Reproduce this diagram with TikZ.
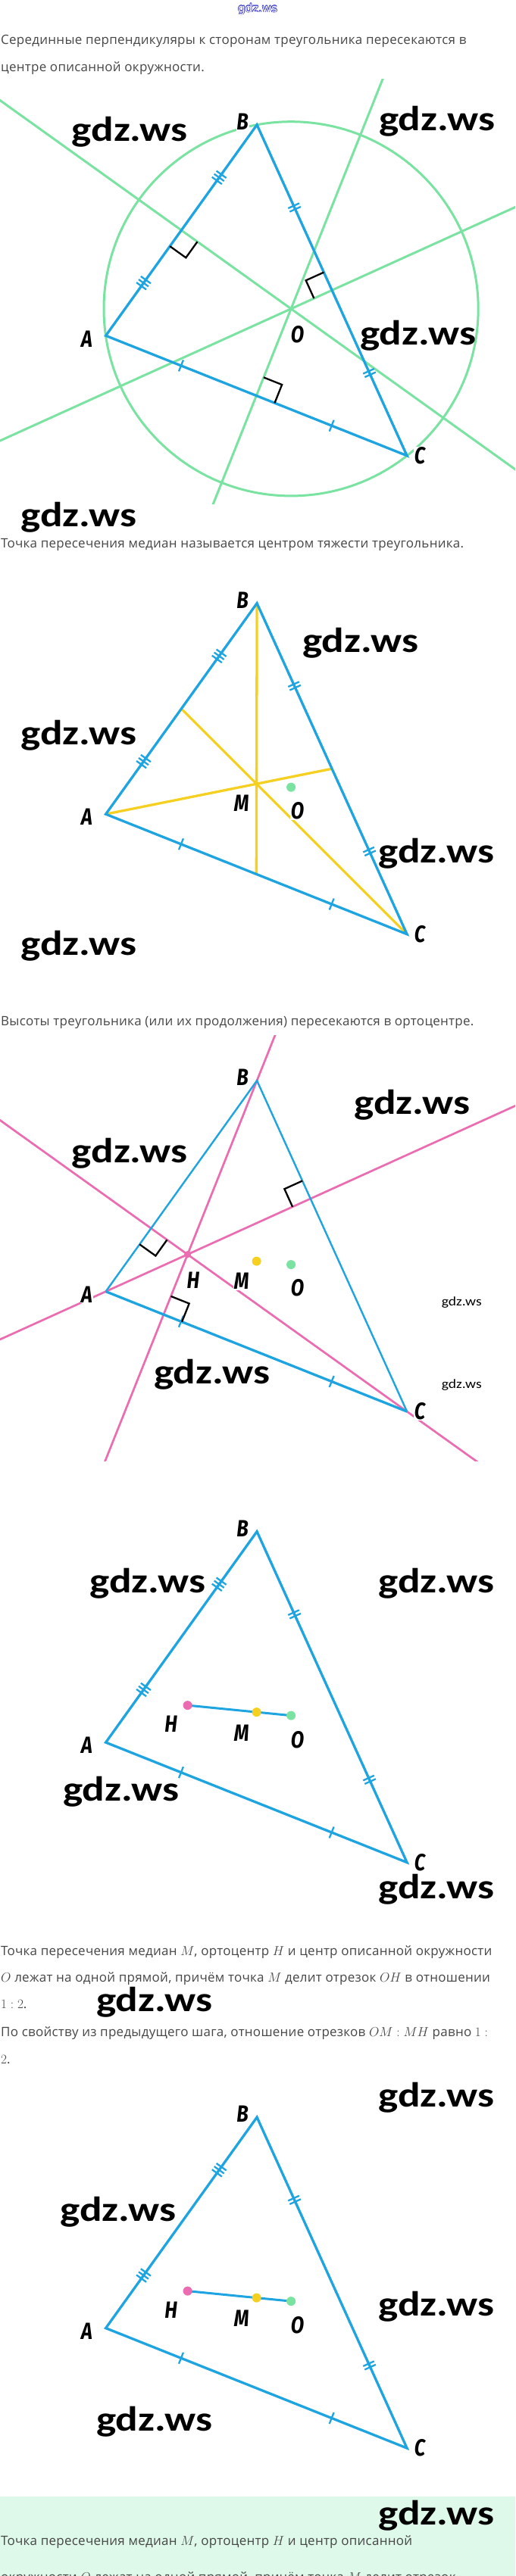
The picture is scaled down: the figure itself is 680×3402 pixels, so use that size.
\documentclass[tikz,border=0pt]{standalone}
\usepackage{fontspec}
\usepackage{tikz}
\usetikzlibrary{calc,decorations.markings}
\setmainfont{Open Sans}[LetterSpace=1.5]
\newfontfamily\labelfont{Fira Sans}
\newfontfamily\wmfont{Carlito}
\newfontfamily\titlefont{DejaVu Sans}
\definecolor{triblue}{RGB}{30,165,225}
\definecolor{bisgreen}{RGB}{122,227,162}
\definecolor{medyellow}{RGB}{246,208,32}
\definecolor{altpink}{RGB}{236,108,178}
\definecolor{boxmint}{RGB}{222,248,233}
\definecolor{textgrey}{RGB}{70,70,70}
\definecolor{titleblue}{RGB}{45,45,205}

% triangle shared by every figure, A at the origin
\newcommand\tripoints{%
  \coordinate (A) at (0,0);
  \coordinate (B) at (199.5,-278.5);
  \coordinate (C) at (397.5,158.5);
  \coordinate (M) at (199,-40);
  \coordinate (O) at (244.5,-35.5);
  \coordinate (H) at (108,-49);
  \coordinate (mAB) at ($(A)!.5!(B)$);
  \coordinate (mBC) at ($(B)!.5!(C)$);
  \coordinate (mAC) at ($(A)!.5!(C)$);}
\newcommand\ticklines[1]{\foreach \k in {1,...,#1}{%
  \draw[tick] ({(\k-(#1+1)/2)*5pt},-8pt) -- ({(\k-(#1+1)/2)*5pt},8pt);}}
\newcommand\perpmark[2]{%
  \coordinate (p1) at ($(#1)!26pt!(#2)$);
  \coordinate (p3) at ($(#1)!26pt!90:(#2)$);
  \draw[perp] (p1) -- ($(p1)+(p3)-(#1)$) -- (p3);}

\tikzset{
  side/.style={draw=triblue,line width=3.3pt},
  thinside/.style={draw=triblue,line width=2.4pt},
  tick/.style={draw=triblue,line width=2.3pt},
  eqmarks/.style={postaction={decorate,decoration={markings,
    mark=at position .25 with {\ticklines{#1}},
    mark=at position .75 with {\ticklines{#1}}}}},
  perp/.style={draw=black,line width=2.3pt},
  bis/.style={draw=bisgreen,line width=3pt},
  med/.style={draw=medyellow,line width=3.3pt},
  alt/.style={draw=altpink,line width=2.7pt},
  seg/.style={draw=triblue,line width=3pt},
  lbl/.style={font=\labelfont\bfseries\itshape\fontsize{31}{31}\selectfont,
    xscale=.82,fill=white,inner sep=1pt},
  wm/.style={font=\wmfont\bfseries\fontsize{46}{46}\selectfont,xscale=1.2,inner sep=0pt},
  wmsmall/.style={font=\wmfont\fontsize{17}{17}\selectfont,xscale=1.15,inner sep=0pt},
  txt/.style={anchor=base west,inner sep=0pt,text=textgrey,font=\fontsize{17}{20}\selectfont},
  ttl/.style={font=\titlefont\fontsize{15}{15}\selectfont,inner sep=0pt},
}

\begin{document}
\begin{tikzpicture}[x=1pt,y=-1pt]
\useasboundingbox[fill=white] (0,0) rectangle (680,3402);

% title
\foreach \a in {0,45,...,315}
  \node[ttl,text=titleblue] (ttl-\a) at ($(340,12)+(\a:0.6pt)$) {gdz.ws};
\node[ttl,text=white] (ttl) at (340,12) {gdz.ws};

% texts
\node[txt] (t1a) at (1,58.3) {Серединные перпендикуляры к сторонам треугольника пересекаются в};
\node[txt] (t1b) at (1,94) {центре описанной окружности.};
\node[txt] (t2) at (1,723) {Точка пересечения медиан называется центром тяжести треугольника.};
\node[txt] (t3) at (1,1354.5) {Высоты треугольника (или их продолжения) пересекаются в ортоцентре.};
\node[txt] (t4a) at (1,2582) {Точка пересечения медиан $M$, ортоцентр $H$ и центр описанной окружности};
\node[txt] (t4b) at (1,2617) {$O$ лежат на одной прямой, причём точка $M$ делит отрезок $OH$ в отношении};
\node[txt] (t4c) at (1,2652) {$1:2$.};
\node[txt] (t5a) at (1,2689) {По свойству из предыдущего шага, отношение отрезков $OM:MH$ равно $1:$};
\node[txt] (t5b) at (1,2725) {$2$.};
\fill[boxmint] (0,3297) rectangle (680,3402);
\node[txt] (t6a) at (1,3361) {Точка пересечения медиан $M$, ортоцентр $H$ и центр описанной};
\node[txt] (t6b) at (1,3409) {окружности $O$ лежат на одной прямой, причём точка $M$ делит отрезок};

% figure 1: perpendicular bisectors
\begin{scope}[shift={(139.6,443.3)}]
  \tripoints
  \begin{scope}
    \clip (-139.6,-338.4) rectangle (540.4,221.9);
    \foreach \p in {mAB,mBC,mAC}
      \draw[bis] ($(O)!-12!(\p)$) -- ($(O)!12!(\p)$);
  \end{scope}
  \draw[bis] (O) circle[radius=247.1pt];
  \draw[side] (A) -- (B) -- (C) -- cycle;
  \path[eqmarks=3] (A) -- (B);
  \path[eqmarks=2] (B) -- (C);
  \path[eqmarks=1] (A) -- (C);
  \perpmark{mAB}{A}
  \perpmark{mBC}{B}
  \perpmark{mAC}{C}
  \node[lbl] (a1) at ($(A)+(-25,4)$) {A};
  \node[lbl] (b1) at ($(B)+(-19,-4)$) {B};
  \node[lbl] (c1) at ($(C)+(17,0)$) {C};
  \node[lbl] (o1) at (253,-2) {O};
\end{scope}

% figure 2: medians
\begin{scope}[shift={(139.6,1075.2)}]
  \tripoints
  \draw[med] (A) -- (mBC);
  \draw[med] (B) -- (mAC);
  \draw[med] (C) -- (mAB);
  \draw[side] (A) -- (B) -- (C) -- cycle;
  \path[eqmarks=3] (A) -- (B);
  \path[eqmarks=2] (B) -- (C);
  \path[eqmarks=1] (A) -- (C);
  \fill[bisgreen] (O) circle[radius=6pt];
  \node[lbl] (a2) at ($(A)+(-25,4)$) {A};
  \node[lbl] (b2) at ($(B)+(-19,-4)$) {B};
  \node[lbl] (c2) at ($(C)+(17,0)$) {C};
  \node[lbl] (m2) at (179,-14.5) {M};
  \node[lbl] (o2) at (253,-4.5) {O};
\end{scope}

% figure 3: altitudes
\begin{scope}[shift={(139.6,1705.6)}]
  \tripoints
  \coordinate (fA) at ($(B)!(A)!(C)$);
  \coordinate (fB) at ($(A)!(B)!(C)$);
  \coordinate (fC) at ($(A)!(C)!(B)$);
  \begin{scope}
    \clip (-139.6,-337.9) rectangle (540.4,223.4);
    \draw[alt] ($(A)!-6!(H)$) -- ($(A)!8!(H)$);
    \draw[alt] ($(B)!-2!(fB)$) -- ($(B)!3!(fB)$);
    \draw[alt] ($(C)!-3!(fC)$) -- ($(C)!2!(fC)$);
  \end{scope}
  \draw[thinside] (A) -- (B) -- (C);
  \draw[side] (A) -- (C);
  \path[eqmarks=1] (A) -- (C);
  \perpmark{fC}{A}
  \perpmark{fA}{B}
  \perpmark{fB}{C}
  \fill[altpink] (H) circle[radius=4.5pt];
  \fill[medyellow] (M) circle[radius=6pt];
  \fill[bisgreen] (O) circle[radius=6pt];
  \node[lbl] (a3) at ($(A)+(-25,4)$) {A};
  \node[lbl] (b3) at ($(B)+(-19,-4)$) {B};
  \node[lbl] (c3) at ($(C)+(17,0)$) {C};
  \node[lbl] (h3) at (115.4,-14.6) {H};
  \node[lbl] (m3) at (179,-13.7) {M};
  \node[lbl] (o3) at (253,-5) {O};
\end{scope}

% figures 4 and 5: Euler line
\foreach \ya/\n in {2301.1/4,3074.6/5}{
\begin{scope}[shift={(139.6,\ya)}]
  \tripoints
  \draw[side] (A) -- (B) -- (C) -- cycle;
  \path[eqmarks=3] (A) -- (B);
  \path[eqmarks=2] (B) -- (C);
  \path[eqmarks=1] (A) -- (C);
  \draw[seg] (H) -- (O);
  \fill[altpink] (H) circle[radius=6pt];
  \fill[medyellow] (M) circle[radius=6pt];
  \fill[bisgreen] (O) circle[radius=6pt];
  \node[lbl] (a\n) at ($(A)+(-25,4)$) {A};
  \node[lbl] (b\n) at ($(B)+(-19,-4)$) {B};
  \node[lbl] (c\n) at ($(C)+(17,0)$) {C};
  \node[lbl] (h\n) at (86,-24) {H};
  \node[lbl] (m\n) at (179,-12.7) {M};
  \node[lbl] (o\n) at (253,-3.6) {O};
\end{scope}}

% watermarks
\node[wm] (w1) at (171.3,174.1) {gdz.ws};
\node[wm] (w2) at (576.8,160.7) {gdz.ws};
\node[wm] (w3) at (551.6,443.3) {gdz.ws};
\node[wm] (w4) at (104,683) {gdz.ws};
\node[wm] (w5) at (475.7,849.3) {gdz.ws};
\node[wm] (w6) at (104,971.6) {gdz.ws};
\node[wm] (w7) at (575.9,1127) {gdz.ws};
\node[wm] (w8) at (104,1249.3) {gdz.ws};
\node[wm] (w9) at (544.2,1458.9) {gdz.ws};
\node[wm] (w10) at (171.3,1523.1) {gdz.ws};
\node[wm] (w11) at (279.7,1815.4) {gdz.ws};
\node[wmsmall] (w12) at (609.3,1720) {gdz.ws};
\node[wmsmall] (w13) at (609.3,1829) {gdz.ws};
\node[wm] (w14) at (195.1,2090.9) {gdz.ws};
\node[wm] (w15) at (575.9,2090.9) {gdz.ws};
\node[wm] (w16) at (159.6,2366.3) {gdz.ws};
\node[wm] (w17) at (575.9,2494.9) {gdz.ws};
\node[wm] (w18) at (203.8,2644.1) {gdz.ws};
\node[wm] (w19) at (575.9,2769.8) {gdz.ws};
\node[wm] (w20) at (156.1,2921.7) {gdz.ws};
\node[wm] (w21) at (575.9,3046) {gdz.ws};
\node[wm] (w22) at (203.8,3198) {gdz.ws};
\node[wm] (w23) at (575.9,3322.3) {gdz.ws};
\end{tikzpicture}
\end{document}
